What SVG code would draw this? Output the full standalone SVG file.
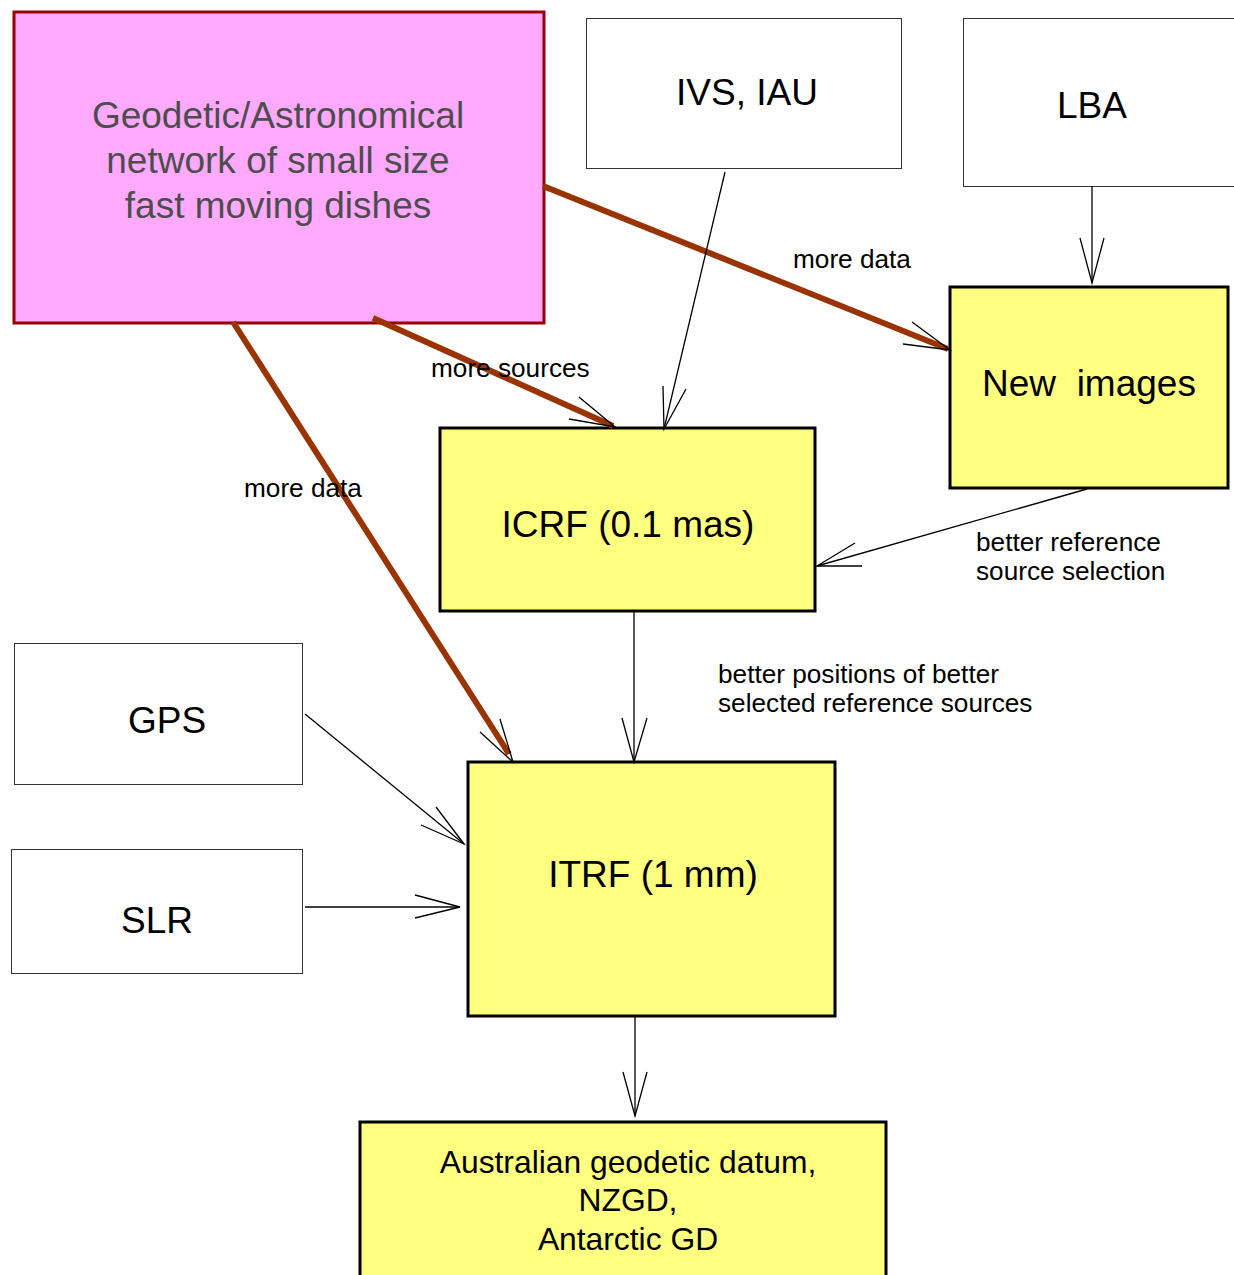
<svg xmlns="http://www.w3.org/2000/svg" width="1234" height="1275" viewBox="0 0 1234 1275">
<style>
text{font-family:"Liberation Sans",Arial,sans-serif;fill:#000}
.big{font-size:37px;text-anchor:middle}
.mid{font-size:31.8px;text-anchor:middle}
.lbl{font-size:26.2px}
.pink{fill:#FFAAFF;stroke:#990000;stroke-width:3}
.white{fill:#fff;stroke:#333;stroke-width:1}
.yel{fill:#FFFF80;stroke:#000;stroke-width:3}
.thick{stroke:#993300;stroke-width:6;fill:none}
.thin{stroke:#000;stroke-width:1.3;fill:none}
</style>
<rect width="1234" height="1275" fill="#fff"/>
<g id="geodetic">
<rect class="pink" x="14" y="12" width="530" height="311"/>
<text class="big" x="278" y="128" style="fill:#4d4d4d">Geodetic/Astronomical</text>
<text class="big" x="278" y="173" style="fill:#4d4d4d">network of small size</text>
<text class="big" x="278" y="218" style="fill:#4d4d4d">fast moving dishes</text>
</g>
<g id="ivs">
<rect class="white" x="586.5" y="18.5" width="315" height="150"/>
<text class="big" x="747" y="105">IVS, IAU</text>
</g>
<g id="lba">
<rect class="white" x="963.5" y="18.5" width="290" height="168"/>
<text class="big" x="1092" y="118">LBA</text>
</g>
<g id="newimages">
<rect class="yel" x="950" y="287" width="278" height="201"/>
<text class="big" x="1089" y="396" style="white-space:pre" xml:space="preserve">New  images</text>
</g>
<g id="icrf">
<rect class="yel" x="440" y="428" width="375" height="183"/>
<text class="big" x="628" y="537">ICRF (0.1 mas)</text>
</g>
<g id="gps">
<rect class="white" x="14.5" y="643.5" width="288" height="141"/>
<text class="big" x="167" y="733">GPS</text>
</g>
<g id="slr">
<rect class="white" x="11.5" y="849.5" width="291" height="124"/>
<text class="big" x="157" y="933">SLR</text>
</g>
<g id="itrf">
<rect class="yel" x="468" y="762" width="367" height="254"/>
<text class="big" x="653" y="887">ITRF (1 mm)</text>
</g>
<g id="australian">
<rect class="yel" x="360" y="1122" width="526" height="170"/>
<text class="mid" x="628" y="1173">Australian geodetic datum,</text>
<text class="mid" x="628" y="1211">NZGD,</text>
<text class="mid" x="628" y="1250">Antarctic GD</text>
</g>
<g id="connectors">
<line class="thick" x1="543" y1="186" x2="948" y2="349"/>
<polyline class="thin" points="912,322 950,350 903,344"/>
<line class="thick" x1="373" y1="318" x2="613" y2="426"/>
<polyline class="thin" points="579,397 615,427 569,419"/>
<line class="thick" x1="233" y1="322" x2="509" y2="754"/>
<polyline class="thin" points="480,732 513,762 500,719"/>
<line class="thin" x1="725" y1="172" x2="664" y2="429"/>
<polyline class="thin" points="663,386 664,429 686,389"/>
<line class="thin" x1="1092" y1="186" x2="1092" y2="283"/>
<polyline class="thin" points="1080,238 1092,283 1104,238"/>
<line class="thin" x1="1087" y1="489" x2="817" y2="566"/>
<polyline class="thin" points="855,543 817,566 862,566"/>
<line class="thin" x1="634" y1="612" x2="634" y2="762"/>
<polyline class="thin" points="622,718 634,762 647,718"/>
<line class="thin" x1="305" y1="714" x2="464" y2="844"/>
<polyline class="thin" points="436,807 464,844 421,825"/>
<line class="thin" x1="305" y1="907" x2="460" y2="907"/>
<polyline class="thin" points="415,895 460,907 415,918"/>
<line class="thin" x1="635" y1="1016" x2="635" y2="1116"/>
<polyline class="thin" points="623,1072 635,1116 647,1072"/>
<text class="lbl" x="793" y="268">more data</text>
<text class="lbl" x="431" y="377">more sources</text>
<text class="lbl" x="244" y="497">more data</text>
<text class="lbl" x="976" y="551">better reference</text>
<text class="lbl" x="976" y="580">source selection</text>
<text class="lbl" x="718" y="683">better positions of better</text>
<text class="lbl" x="718" y="712">selected reference sources</text>
</g>
</svg>
